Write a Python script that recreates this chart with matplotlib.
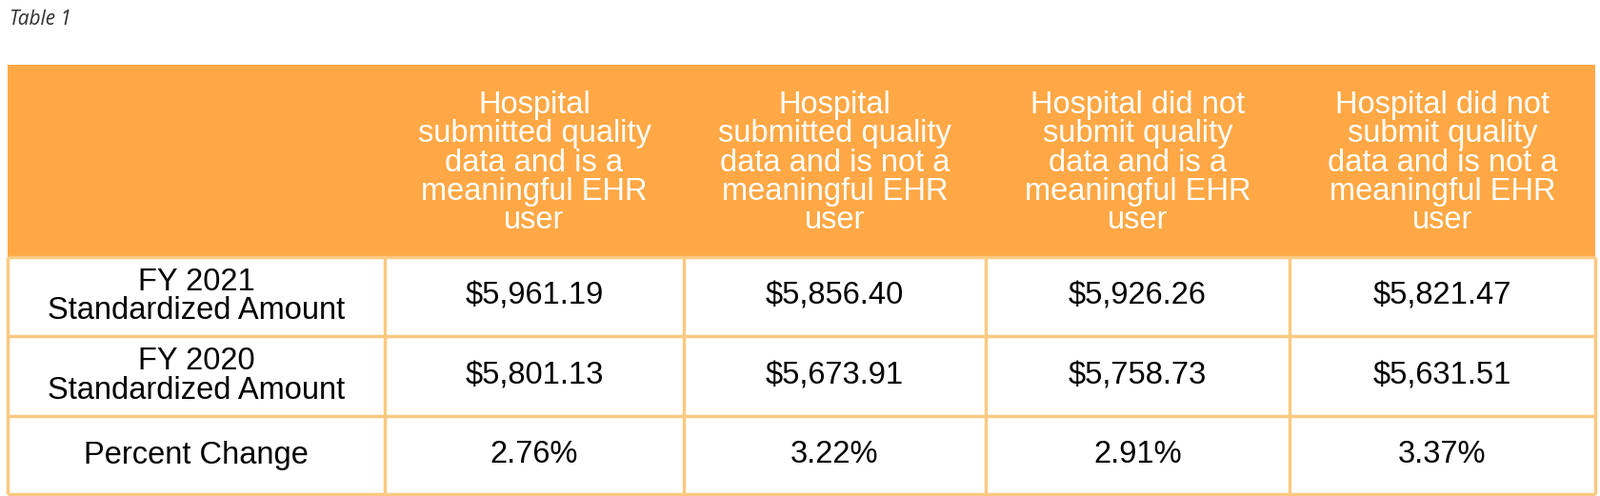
import matplotlib
matplotlib.use("Agg")
import matplotlib.pyplot as plt
from matplotlib.patches import Rectangle

headers = ["", "Hospital\nsubmitted quality\ndata and is a\nmeaningful EHR\nuser",
           "Hospital\nsubmitted quality\ndata and is not a\nmeaningful EHR\nuser",
           "Hospital did not\nsubmit quality\ndata and is a\nmeaningful EHR\nuser",
           "Hospital did not\nsubmit quality\ndata and is not a\nmeaningful EHR\nuser"]
row_labels = ["FY 2021\nStandardized Amount", "FY 2020\nStandardized Amount", "Percent Change"]
fy2021 = ["$5,961.19", "$5,856.40", "$5,926.26", "$5,821.47"]
fy2020 = ["$5,801.13", "$5,673.91", "$5,758.73", "$5,631.51"]
pct = ["2.76%", "3.22%", "2.91%", "3.37%"]
rows = [fy2021, fy2020, pct]

W, H = 1681, 521
fig = plt.figure(figsize=(W/100, H/100), dpi=100)
ax = fig.add_axes([0, 0, 1, 1])
ax.set_xlim(0, W); ax.set_ylim(H, 0); ax.axis("off")

xs = [8, 404, 718, 1035, 1354, 1675]
ys = [68, 270, 353, 437, 519]
orange = "#FFA845"
border = "#FBC980"
font = "Liberation Sans"

ax.text(10, 21, "Table 1", fontsize=15, fontstyle="italic", family="Open Sans",
        color="#333333", va="center", ha="left")

ax.add_patch(Rectangle((xs[0], ys[0]), xs[-1]-xs[0], ys[1]-ys[0], color=orange, lw=0))
for i, h in enumerate(headers):
    if h:
        ax.text((xs[i]+xs[i+1])/2, (ys[0]+ys[1])/2 + 2, h, ha="center", va="center",
                fontsize=23.5, color="white", family=font, linespacing=0.97)

lw = 2.5
for y in ys[1:]:
    ax.plot([xs[0], xs[-1]], [y, y], color=border, lw=lw, solid_capstyle="butt")
for x in xs:
    ax.plot([x, x], [ys[1], ys[-1]], color=border, lw=lw, solid_capstyle="butt")

for r, (lab, vals) in enumerate(zip(row_labels, rows)):
    yc = (ys[r+1]+ys[r+2])/2
    ax.text((xs[0]+xs[1])/2, yc, lab, ha="center", va="center", fontsize=23.5,
            family=font, color="black", linespacing=0.97)
    for c, v in enumerate(vals):
        ax.text((xs[c+1]+xs[c+2])/2, yc, v, ha="center", va="center",
                fontsize=23.5, family=font, color="black")

fig.savefig("out.png", dpi=100)
